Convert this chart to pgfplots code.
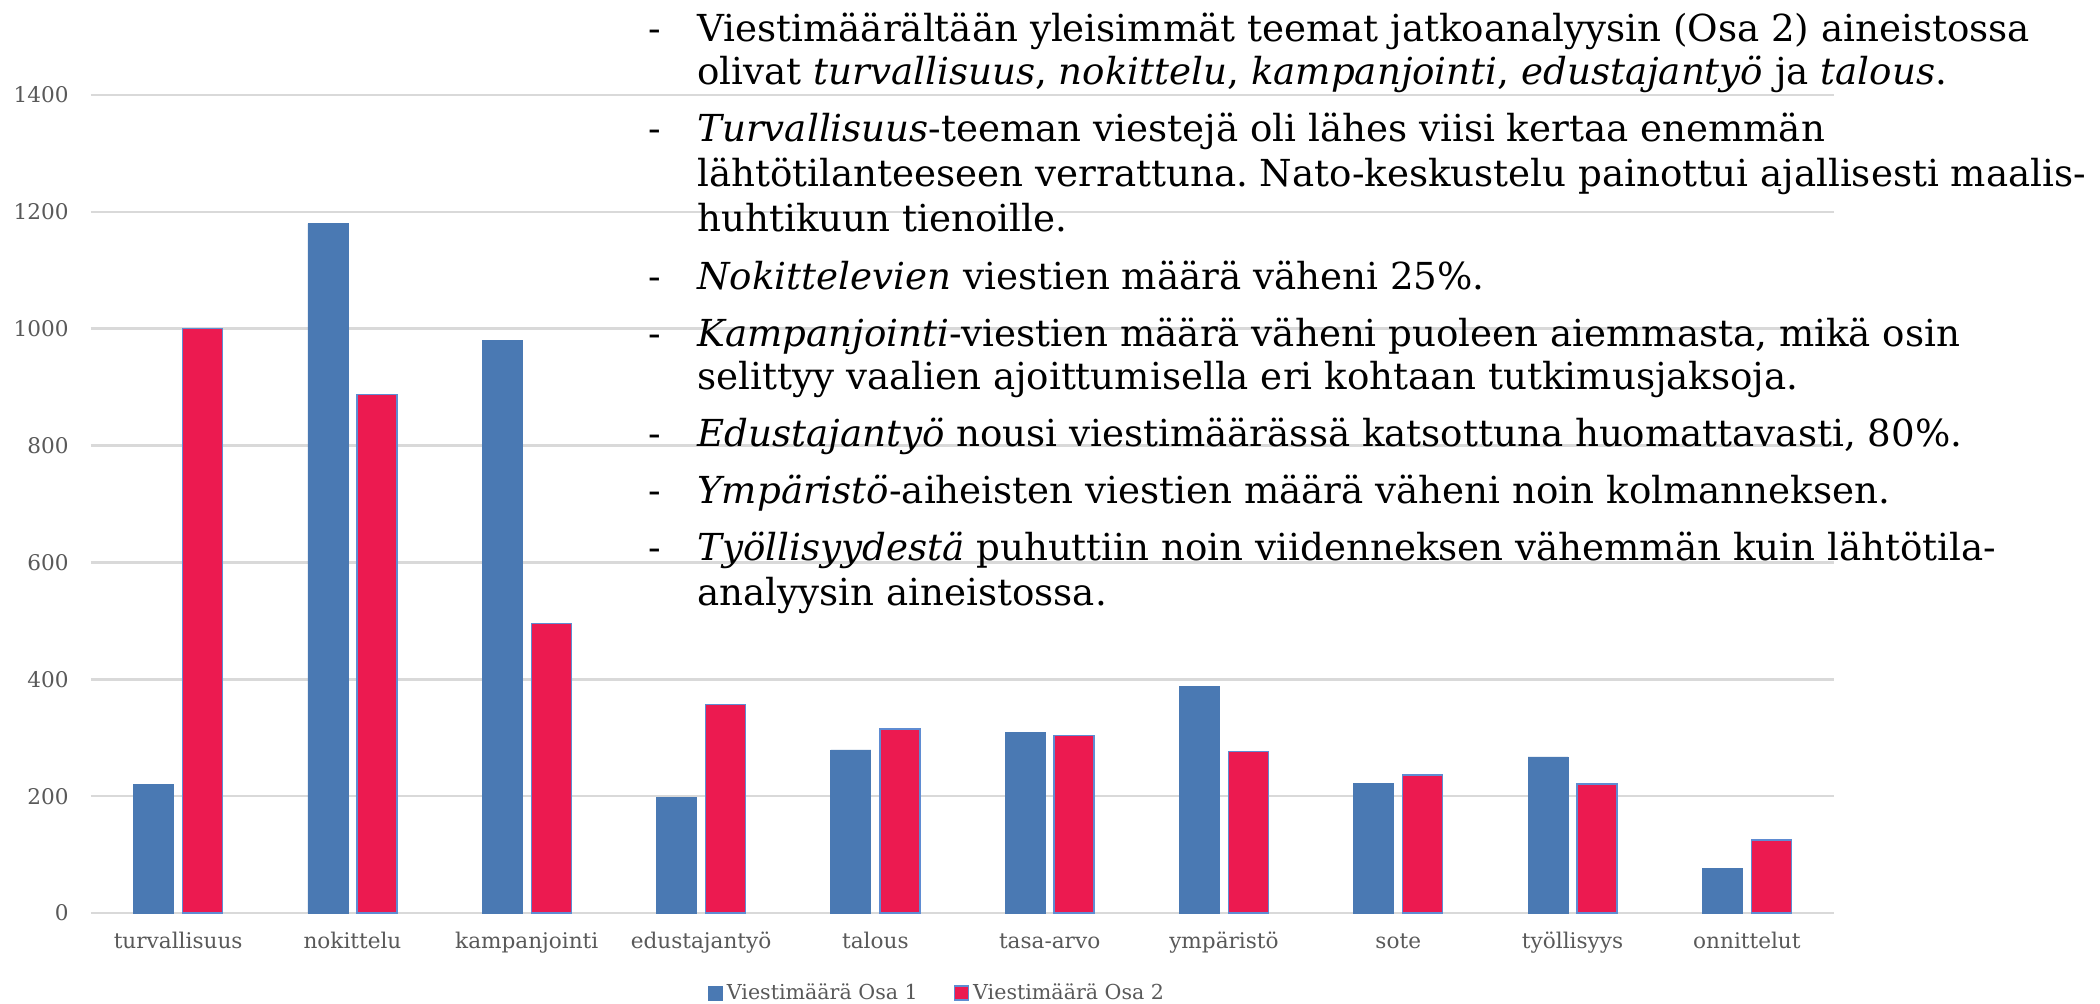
\documentclass[border=0pt]{standalone}
\usepackage{pgfplots}
\pgfplotsset{compat=1.18}
\usepackage{fontspec}
\setmainfont{DejaVu Serif}
\frenchspacing
\definecolor{barblue}{RGB}{74,121,179}
\definecolor{barred}{RGB}{236,26,80}
\definecolor{edgeblue}{RGB}{95,140,210}
\definecolor{gridgray}{RGB}{217,217,217}
\definecolor{labgray}{RGB}{89,89,89}
\begin{document}
\begin{tikzpicture}
\useasboundingbox (0,0) rectangle (1050pt,501.5pt);
\begin{axis}[
  at={(45.5pt,45pt)}, anchor=south west,
  scale only axis, width=871.5pt, height=409pt,
  xmin=-0.5, xmax=9.5, ymin=0, ymax=1400,
  enlarge x limits=false,
  ybar=4.5pt, bar width=20pt,
  axis line style={draw=none},
  major tick length=0pt,
  ymajorgrids, grid style={color=gridgray, line width=1.25pt},
  ytick={0,200,...,1400},
  xtick={0,...,9},
  xticklabels={turvallisuus,nokittelu,kampanjointi,edustajantyö,talous,tasa-arvo,ympäristö,sote,työllisyys,onnittelut},
  /pgf/number format/assume math mode=true,
  /pgf/number format/1000 sep={},
  tick label style={font=\fontsize{10.8}{13}\selectfont, text=labgray},
  yticklabel style={anchor=east, inner sep=0pt, xshift=-11pt},
  xticklabel style={anchor=base, inner sep=0pt, yshift=-17.5pt},
  legend style={at={(0.486,-0.0978)}, anchor=center, draw=none, fill=none,
    font=\fontsize{10.3}{12}\selectfont, text=labgray,
    legend columns=2, /tikz/every even column/.append style={column sep=16pt}},
  legend image code/.code={\path[#1] (0pt,-3.5pt) rectangle (7pt,3.5pt);},
]
\addplot[fill=barblue, draw=barblue, line width=0.4pt] coordinates {
 (0,220) (1,1180) (2,980) (3,197) (4,279) (5,309) (6,388) (7,222) (8,267) (9,77)};
\addplot[fill=barred, draw=edgeblue, line width=0.7pt] coordinates {
 (0,1000) (1,887) (2,495) (3,357) (4,315) (5,304) (6,276) (7,236) (8,221) (9,125)};
\legend{Viestimäärä Osa 1, Viestimäärä Osa 2}
\end{axis}
\begin{scope}[every node/.style={inner sep=0pt, font=\fontsize{18.6}{22}\selectfont}]
\foreach \y in {480.65,430.65,356.5,328.15,278.15,249.85,221.5}{
  \node[anchor=base west] at (324pt,\y pt) {-};
}
\node[anchor=base west] at (348.5pt,480.65pt) {Viestimäärältään yleisimmät teemat jatkoanalyysin (Osa 2) aineistossa};
\node[anchor=base west] at (348.5pt,459pt) {olivat \textit{turvallisuus}, \textit{nokittelu}, \textit{kampanjointi}, \textit{edustajantyö} ja \textit{talous}.};
\node[anchor=base west] at (348.5pt,430.65pt) {\textit{Turvallisuus}-teeman viestejä oli lähes viisi kertaa enemmän};
\node[anchor=base west] at (348.5pt,408.15pt) {lähtötilanteeseen verrattuna. Nato-keskustelu painottui ajallisesti maalis-};
\node[anchor=base west] at (348.5pt,385.65pt) {huhtikuun tienoille.};
\node[anchor=base west] at (348.5pt,356.5pt) {\textit{Nokittelevien} viestien määrä väheni 25\%.};
\node[anchor=base west] at (348.5pt,328.15pt) {\textit{Kampanjointi}-viestien määrä väheni puoleen aiemmasta, mikä osin};
\node[anchor=base west] at (348.5pt,306.5pt) {selittyy vaalien ajoittumisella eri kohtaan tutkimusjaksoja.};
\node[anchor=base west] at (348.5pt,278.15pt) {\textit{Edustajantyö} nousi viestimäärässä katsottuna huomattavasti, 80\%.};
\node[anchor=base west] at (348.5pt,249.85pt) {\textit{Ympäristö}-aiheisten viestien määrä väheni noin kolmanneksen.};
\node[anchor=base west] at (348.5pt,221.5pt) {\textit{Työllisyydestä} puhuttiin noin viidenneksen vähemmän kuin lähtötila-};
\node[anchor=base west] at (348.5pt,199pt) {analyysin aineistossa.};
\end{scope}
\end{tikzpicture}
\end{document}
